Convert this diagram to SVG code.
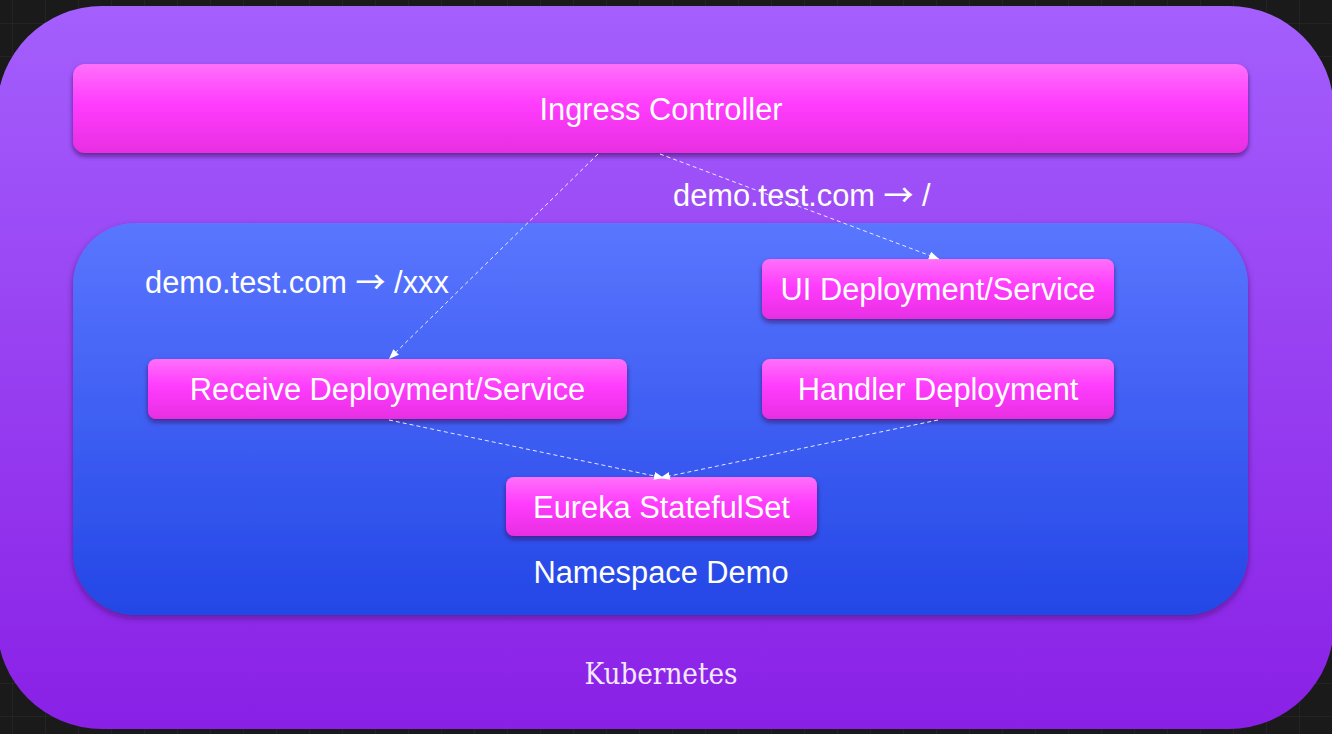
<svg xmlns="http://www.w3.org/2000/svg" width="1332" height="734" viewBox="0 0 1332 734">
<defs>
<pattern id="grid" width="33" height="33" patternUnits="userSpaceOnUse" x="12" y="23">
<path d="M0 0H33M0 0V33" fill="none" stroke="#2c2c2c" stroke-width="1"/>
</pattern>
<linearGradient id="gOuter" x1="0" y1="0" x2="0" y2="1">
<stop offset="0" stop-color="#a45ffd"/>
<stop offset="1" stop-color="#8a20e6"/>
</linearGradient>
<linearGradient id="gNs" x1="0" y1="0" x2="0" y2="1">
<stop offset="0" stop-color="#5a76ff"/>
<stop offset="1" stop-color="#2347e6"/>
</linearGradient>
<linearGradient id="gNode" x1="0" y1="0" x2="0" y2="1">
<stop offset="0" stop-color="#ff70fa"/>
<stop offset="0.45" stop-color="#ff3cfd"/>
<stop offset="1" stop-color="#e82ee2"/>
</linearGradient>
<filter id="sh" x="-10%" y="-20%" width="120%" height="150%">
<feDropShadow dx="0" dy="3" stdDeviation="2.5" flood-color="#3a0a60" flood-opacity="0.7"/>
</filter>
<filter id="shBig" x="-5%" y="-5%" width="110%" height="115%">
<feDropShadow dx="0" dy="3" stdDeviation="3" flood-color="#3a0a60" flood-opacity="0.6"/>
</filter>
<marker id="arr" markerWidth="10" markerHeight="8" refX="10" refY="4" orient="auto" markerUnits="userSpaceOnUse">
<path d="M0 0L10 4L0 8Z" fill="#ffffff"/>
</marker>
<style>
.node{fill:url(#gNode);filter:url(#sh)}
.t{font-family:"Liberation Sans",Arial,sans-serif;font-size:30.8px;fill:#ffffff}
.c{text-anchor:middle}
.ar{font-family:"Noto Sans CJK SC","DejaVu Sans",sans-serif;font-size:30px;font-weight:500}
.edge{stroke:#e8e8ff;stroke-width:1;stroke-dasharray:4 3;fill:none;marker-end:url(#arr)}
</style>
</defs>
<rect width="1332" height="734" fill="#1a1a1a"/>
<rect width="1332" height="734" fill="url(#grid)"/>
<g id="kubernetes">
<rect x="-3" y="6" width="1337" height="723" rx="105" fill="url(#gOuter)"/>
<text x="661" y="684" text-anchor="middle" font-family="DejaVu Serif Condensed, DejaVu Serif, serif" font-stretch="condensed" font-size="30" fill="#f4e8ff" textLength="153" lengthAdjust="spacingAndGlyphs">Kubernetes</text>
</g>
<g id="ingress-controller">
<rect class="node" x="73" y="64" width="1175" height="89" rx="12"/>
<text class="t c" x="661" y="120">Ingress Controller</text>
</g>
<text class="t" x="673" y="206">demo.test.com <tspan class="ar">→</tspan> /</text>
<g id="namespace-demo">
<rect x="73" y="223" width="1175" height="392" rx="62" fill="url(#gNs)" filter="url(#shBig)"/>
<text class="t c" x="661" y="583">Namespace Demo</text>
</g>
<text class="t" x="145" y="293">demo.test.com <tspan class="ar">→</tspan> /xxx</text>
<g id="ui-deployment">
<rect class="node" x="762" y="259" width="352" height="60" rx="8"/>
<text class="t c" x="938" y="300">UI Deployment/Service</text>
</g>
<g id="receive-deployment">
<rect class="node" x="148" y="359" width="479" height="60" rx="8"/>
<text class="t c" x="387.5" y="400">Receive Deployment/Service</text>
</g>
<g id="handler-deployment">
<rect class="node" x="762" y="359" width="352" height="60" rx="8"/>
<text class="t c" x="938" y="400">Handler Deployment</text>
</g>
<g id="eureka-statefulset">
<rect class="node" x="506" y="477" width="311" height="59" rx="8"/>
<text class="t c" x="661.5" y="518">Eureka StatefulSet</text>
</g>
<g id="connectors">
<path class="edge" d="M598 154L389 359"/>
<path class="edge" d="M660 154L939 259"/>
<path class="edge" d="M389 420L664 478"/>
<path class="edge" d="M938 420L660 478"/>
</g>
</svg>
